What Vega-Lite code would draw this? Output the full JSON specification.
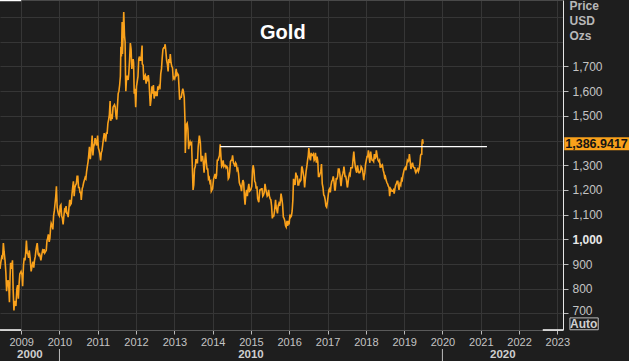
{
"$schema": "https://vega.github.io/schema/vega-lite/v6.json",
"width": 563, "height": 330,
"autosize": {"type": "none"},
"padding": {"left": 0, "top": 0, "right": 66, "bottom": 31},
"background": "#1e1e1e",
"config": {
  "font": "Liberation Sans",
  "view": {"stroke": null},
  "axis": {"gridColor": "#363636", "gridWidth": 1, "labelColor": "#c4c4c4", "labelFontSize": 11, "tickColor": "#bbbbbb"}
},
"resolve": {"axis": {"x": "independent", "y": "independent"}},
"datasets": {
"one": [{}],
"gold": [
{"d":"2008-06-13","p":880},{"d":"2008-06-20","p":905},{"d":"2008-06-30","p":930},{"d":"2008-07-08","p":925},{"d":"2008-07-15","p":985},{"d":"2008-07-22","p":950},{"d":"2008-07-31","p":915},{"d":"2008-08-08","p":865},{"d":"2008-08-15","p":790},{"d":"2008-08-22","p":825},{"d":"2008-08-29","p":835},{"d":"2008-09-05","p":805},{"d":"2008-09-11","p":745},{"d":"2008-09-17","p":850},{"d":"2008-09-22","p":905},{"d":"2008-09-30","p":880},{"d":"2008-10-10","p":915},{"d":"2008-10-16","p":800},{"d":"2008-10-24","p":712},{"d":"2008-10-29","p":750},{"d":"2008-11-05","p":740},{"d":"2008-11-12","p":730},{"d":"2008-11-21","p":800},{"d":"2008-11-28","p":815},{"d":"2008-12-05","p":760},{"d":"2008-12-12","p":820},{"d":"2008-12-19","p":860},{"d":"2008-12-31","p":870},
{"d":"2009-01-09","p":855},{"d":"2009-01-15","p":810},{"d":"2009-01-23","p":895},{"d":"2009-01-30","p":925},{"d":"2009-02-06","p":915},{"d":"2009-02-13","p":945},{"d":"2009-02-20","p":995},{"d":"2009-02-27","p":945},{"d":"2009-03-06","p":940},{"d":"2009-03-13","p":925},{"d":"2009-03-19","p":955},{"d":"2009-03-27","p":925},{"d":"2009-04-06","p":870},{"d":"2009-04-14","p":890},{"d":"2009-04-24","p":910},{"d":"2009-05-01","p":885},{"d":"2009-05-08","p":915},{"d":"2009-05-15","p":930},{"d":"2009-05-22","p":955},{"d":"2009-05-29","p":975},{"d":"2009-06-03","p":985},{"d":"2009-06-12","p":940},{"d":"2009-06-19","p":935},{"d":"2009-06-26","p":940},{"d":"2009-07-08","p":915},{"d":"2009-07-17","p":940},{"d":"2009-07-24","p":955},{"d":"2009-07-31","p":950},{"d":"2009-08-07","p":960},{"d":"2009-08-14","p":945},{"d":"2009-08-21","p":950},{"d":"2009-08-28","p":955},{"d":"2009-09-04","p":995},{"d":"2009-09-11","p":1005},{"d":"2009-09-17","p":1020},{"d":"2009-09-25","p":990},{"d":"2009-10-02","p":1005},{"d":"2009-10-09","p":1050},{"d":"2009-10-14","p":1065},{"d":"2009-10-23","p":1055},{"d":"2009-10-30","p":1040},{"d":"2009-11-06","p":1095},{"d":"2009-11-13","p":1115},{"d":"2009-11-20","p":1145},{"d":"2009-11-27","p":1175},{"d":"2009-12-03","p":1215},{"d":"2009-12-10","p":1130},{"d":"2009-12-18","p":1110},{"d":"2009-12-24","p":1100},{"d":"2009-12-31","p":1095},
{"d":"2010-01-08","p":1135},{"d":"2010-01-15","p":1140},{"d":"2010-01-22","p":1095},{"d":"2010-01-29","p":1085},{"d":"2010-02-05","p":1060},{"d":"2010-02-12","p":1095},{"d":"2010-02-19","p":1120},{"d":"2010-02-26","p":1115},{"d":"2010-03-05","p":1135},{"d":"2010-03-12","p":1105},{"d":"2010-03-19","p":1105},{"d":"2010-03-25","p":1090},{"d":"2010-04-01","p":1125},{"d":"2010-04-09","p":1160},{"d":"2010-04-16","p":1140},{"d":"2010-04-23","p":1145},{"d":"2010-04-30","p":1180},{"d":"2010-05-07","p":1210},{"d":"2010-05-14","p":1235},{"d":"2010-05-21","p":1175},{"d":"2010-05-28","p":1210},{"d":"2010-06-04","p":1220},{"d":"2010-06-11","p":1225},{"d":"2010-06-18","p":1255},{"d":"2010-06-25","p":1255},{"d":"2010-07-02","p":1210},{"d":"2010-07-09","p":1210},{"d":"2010-07-16","p":1190},{"d":"2010-07-23","p":1190},{"d":"2010-07-28","p":1160},{"d":"2010-08-06","p":1205},{"d":"2010-08-13","p":1215},{"d":"2010-08-20","p":1230},{"d":"2010-08-27","p":1240},{"d":"2010-09-03","p":1250},{"d":"2010-09-10","p":1245},{"d":"2010-09-17","p":1275},{"d":"2010-09-24","p":1295},{"d":"2010-10-01","p":1315},{"d":"2010-10-08","p":1345},{"d":"2010-10-14","p":1375},{"d":"2010-10-22","p":1325},{"d":"2010-10-29","p":1355},{"d":"2010-11-05","p":1395},{"d":"2010-11-09","p":1420},{"d":"2010-11-16","p":1340},{"d":"2010-11-23","p":1375},{"d":"2010-11-30","p":1385},{"d":"2010-12-07","p":1410},{"d":"2010-12-14","p":1395},{"d":"2010-12-21","p":1380},{"d":"2010-12-31","p":1420},
{"d":"2011-01-07","p":1370},{"d":"2011-01-14","p":1360},{"d":"2011-01-21","p":1345},{"d":"2011-01-28","p":1320},{"d":"2011-02-04","p":1350},{"d":"2011-02-11","p":1360},{"d":"2011-02-18","p":1385},{"d":"2011-02-25","p":1410},{"d":"2011-03-04","p":1430},{"d":"2011-03-11","p":1420},{"d":"2011-03-17","p":1395},{"d":"2011-03-25","p":1430},{"d":"2011-04-01","p":1430},{"d":"2011-04-08","p":1470},{"d":"2011-04-15","p":1485},{"d":"2011-04-22","p":1505},{"d":"2011-04-29","p":1560},{"d":"2011-05-05","p":1480},{"d":"2011-05-13","p":1500},{"d":"2011-05-20","p":1495},{"d":"2011-05-27","p":1535},{"d":"2011-06-03","p":1540},{"d":"2011-06-10","p":1545},{"d":"2011-06-17","p":1535},{"d":"2011-06-24","p":1500},{"d":"2011-07-01","p":1485},{"d":"2011-07-08","p":1540},{"d":"2011-07-15","p":1590},{"d":"2011-07-22","p":1600},{"d":"2011-07-29","p":1625},{"d":"2011-08-05","p":1660},{"d":"2011-08-10","p":1780},{"d":"2011-08-15","p":1740},{"d":"2011-08-22","p":1880},{"d":"2011-08-25","p":1750},{"d":"2011-08-31","p":1825},{"d":"2011-09-06","p":1920},{"d":"2011-09-13","p":1825},{"d":"2011-09-19","p":1800},{"d":"2011-09-23","p":1660},{"d":"2011-09-26","p":1600},{"d":"2011-10-04","p":1660},{"d":"2011-10-10","p":1660},{"d":"2011-10-18","p":1645},{"d":"2011-10-24","p":1670},{"d":"2011-10-31","p":1720},{"d":"2011-11-08","p":1795},{"d":"2011-11-15","p":1770},{"d":"2011-11-22","p":1690},{"d":"2011-11-28","p":1710},{"d":"2011-12-05","p":1730},{"d":"2011-12-09","p":1715},{"d":"2011-12-15","p":1590},{"d":"2011-12-22","p":1610},{"d":"2011-12-29","p":1535},
{"d":"2012-01-06","p":1620},{"d":"2012-01-13","p":1640},{"d":"2012-01-20","p":1660},{"d":"2012-01-27","p":1730},{"d":"2012-02-03","p":1740},{"d":"2012-02-10","p":1725},{"d":"2012-02-17","p":1725},{"d":"2012-02-28","p":1785},{"d":"2012-03-01","p":1710},{"d":"2012-03-09","p":1705},{"d":"2012-03-15","p":1645},{"d":"2012-03-23","p":1660},{"d":"2012-03-30","p":1665},{"d":"2012-04-06","p":1630},{"d":"2012-04-13","p":1660},{"d":"2012-04-20","p":1640},{"d":"2012-04-27","p":1665},{"d":"2012-05-04","p":1640},{"d":"2012-05-11","p":1580},{"d":"2012-05-16","p":1540},{"d":"2012-05-23","p":1565},{"d":"2012-06-01","p":1620},{"d":"2012-06-08","p":1590},{"d":"2012-06-15","p":1625},{"d":"2012-06-22","p":1570},{"d":"2012-06-29","p":1600},{"d":"2012-07-06","p":1580},{"d":"2012-07-13","p":1590},{"d":"2012-07-20","p":1580},{"d":"2012-07-27","p":1620},{"d":"2012-08-03","p":1605},{"d":"2012-08-10","p":1620},{"d":"2012-08-17","p":1615},{"d":"2012-08-24","p":1670},{"d":"2012-08-31","p":1690},{"d":"2012-09-07","p":1735},{"d":"2012-09-14","p":1770},{"d":"2012-09-21","p":1775},{"d":"2012-09-28","p":1775},{"d":"2012-10-05","p":1790},{"d":"2012-10-12","p":1760},{"d":"2012-10-19","p":1725},{"d":"2012-10-26","p":1710},{"d":"2012-11-02","p":1680},{"d":"2012-11-09","p":1730},{"d":"2012-11-16","p":1715},{"d":"2012-11-23","p":1750},{"d":"2012-11-30","p":1715},{"d":"2012-12-07","p":1700},{"d":"2012-12-14","p":1695},{"d":"2012-12-21","p":1650},{"d":"2012-12-28","p":1655},
{"d":"2013-01-04","p":1650},{"d":"2013-01-11","p":1665},{"d":"2013-01-18","p":1690},{"d":"2013-01-25","p":1665},{"d":"2013-02-01","p":1670},{"d":"2013-02-08","p":1665},{"d":"2013-02-15","p":1610},{"d":"2013-02-20","p":1565},{"d":"2013-03-01","p":1575},{"d":"2013-03-08","p":1575},{"d":"2013-03-15","p":1595},{"d":"2013-03-22","p":1610},{"d":"2013-03-28","p":1600},{"d":"2013-04-05","p":1575},{"d":"2013-04-12","p":1480},{"d":"2013-04-15","p":1350},{"d":"2013-04-19","p":1395},{"d":"2013-04-26","p":1465},{"d":"2013-05-03","p":1470},{"d":"2013-05-10","p":1445},{"d":"2013-05-17","p":1365},{"d":"2013-05-24","p":1385},{"d":"2013-05-31","p":1395},{"d":"2013-06-07","p":1385},{"d":"2013-06-14","p":1390},{"d":"2013-06-21","p":1295},{"d":"2013-06-28","p":1200},{"d":"2013-07-05","p":1220},{"d":"2013-07-12","p":1285},{"d":"2013-07-19","p":1295},{"d":"2013-07-26","p":1325},{"d":"2013-08-02","p":1310},{"d":"2013-08-09","p":1310},{"d":"2013-08-16","p":1375},{"d":"2013-08-27","p":1420},{"d":"2013-09-06","p":1390},{"d":"2013-09-13","p":1315},{"d":"2013-09-20","p":1335},{"d":"2013-09-27","p":1335},{"d":"2013-10-04","p":1310},{"d":"2013-10-11","p":1270},{"d":"2013-10-18","p":1315},{"d":"2013-10-25","p":1350},{"d":"2013-11-01","p":1315},{"d":"2013-11-08","p":1285},{"d":"2013-11-15","p":1285},{"d":"2013-11-22","p":1245},{"d":"2013-11-29","p":1250},{"d":"2013-12-06","p":1230},{"d":"2013-12-13","p":1235},{"d":"2013-12-19","p":1195},{"d":"2013-12-31","p":1205},
{"d":"2014-01-10","p":1245},{"d":"2014-01-17","p":1255},{"d":"2014-01-24","p":1265},{"d":"2014-01-31","p":1245},{"d":"2014-02-07","p":1260},{"d":"2014-02-14","p":1320},{"d":"2014-02-21","p":1320},{"d":"2014-02-28","p":1330},{"d":"2014-03-07","p":1340},{"d":"2014-03-14","p":1385},{"d":"2014-03-21","p":1335},{"d":"2014-03-28","p":1295},{"d":"2014-04-04","p":1300},{"d":"2014-04-11","p":1320},{"d":"2014-04-18","p":1295},{"d":"2014-04-25","p":1300},{"d":"2014-05-02","p":1300},{"d":"2014-05-09","p":1290},{"d":"2014-05-16","p":1295},{"d":"2014-05-23","p":1290},{"d":"2014-05-30","p":1245},{"d":"2014-06-06","p":1250},{"d":"2014-06-13","p":1275},{"d":"2014-06-20","p":1315},{"d":"2014-06-27","p":1320},{"d":"2014-07-03","p":1320},{"d":"2014-07-10","p":1340},{"d":"2014-07-18","p":1310},{"d":"2014-07-25","p":1305},{"d":"2014-08-01","p":1295},{"d":"2014-08-08","p":1310},{"d":"2014-08-15","p":1305},{"d":"2014-08-22","p":1280},{"d":"2014-08-29","p":1285},{"d":"2014-09-05","p":1265},{"d":"2014-09-12","p":1230},{"d":"2014-09-19","p":1220},{"d":"2014-09-26","p":1215},{"d":"2014-10-03","p":1195},{"d":"2014-10-10","p":1225},{"d":"2014-10-17","p":1240},{"d":"2014-10-24","p":1230},{"d":"2014-10-31","p":1170},{"d":"2014-11-06","p":1140},{"d":"2014-11-14","p":1185},{"d":"2014-11-21","p":1200},{"d":"2014-11-28","p":1175},{"d":"2014-12-05","p":1205},{"d":"2014-12-12","p":1225},{"d":"2014-12-19","p":1195},{"d":"2014-12-31","p":1200},
{"d":"2015-01-09","p":1215},{"d":"2015-01-16","p":1275},{"d":"2015-01-22","p":1300},{"d":"2015-01-30","p":1280},{"d":"2015-02-06","p":1235},{"d":"2015-02-13","p":1230},{"d":"2015-02-20","p":1205},{"d":"2015-02-27","p":1215},{"d":"2015-03-06","p":1165},{"d":"2015-03-13","p":1155},{"d":"2015-03-17","p":1150},{"d":"2015-03-27","p":1200},{"d":"2015-04-03","p":1200},{"d":"2015-04-10","p":1205},{"d":"2015-04-17","p":1205},{"d":"2015-04-24","p":1175},{"d":"2015-05-01","p":1180},{"d":"2015-05-08","p":1190},{"d":"2015-05-15","p":1225},{"d":"2015-05-22","p":1205},{"d":"2015-05-29","p":1190},{"d":"2015-06-05","p":1175},{"d":"2015-06-12","p":1180},{"d":"2015-06-19","p":1200},{"d":"2015-06-26","p":1175},{"d":"2015-07-03","p":1165},{"d":"2015-07-10","p":1160},{"d":"2015-07-17","p":1135},{"d":"2015-07-24","p":1085},{"d":"2015-07-31","p":1095},{"d":"2015-08-07","p":1095},{"d":"2015-08-14","p":1115},{"d":"2015-08-24","p":1160},{"d":"2015-08-28","p":1135},{"d":"2015-09-04","p":1120},{"d":"2015-09-11","p":1105},{"d":"2015-09-18","p":1135},{"d":"2015-09-25","p":1145},{"d":"2015-10-02","p":1135},{"d":"2015-10-09","p":1155},{"d":"2015-10-15","p":1185},{"d":"2015-10-23","p":1165},{"d":"2015-10-30","p":1140},{"d":"2015-11-06","p":1090},{"d":"2015-11-13","p":1085},{"d":"2015-11-20","p":1075},{"d":"2015-11-27","p":1055},{"d":"2015-12-03","p":1050},{"d":"2015-12-11","p":1075},{"d":"2015-12-17","p":1055},{"d":"2015-12-24","p":1075},{"d":"2015-12-31","p":1060},
{"d":"2016-01-08","p":1100},{"d":"2016-01-15","p":1090},{"d":"2016-01-22","p":1095},{"d":"2016-01-29","p":1115},{"d":"2016-02-05","p":1160},{"d":"2016-02-11","p":1245},{"d":"2016-02-19","p":1230},{"d":"2016-02-26","p":1220},{"d":"2016-03-04","p":1270},{"d":"2016-03-11","p":1255},{"d":"2016-03-18","p":1255},{"d":"2016-03-24","p":1220},{"d":"2016-04-01","p":1220},{"d":"2016-04-08","p":1240},{"d":"2016-04-15","p":1235},{"d":"2016-04-22","p":1240},{"d":"2016-04-29","p":1290},{"d":"2016-05-02","p":1295},{"d":"2016-05-13","p":1270},{"d":"2016-05-20","p":1250},{"d":"2016-05-27","p":1210},{"d":"2016-06-03","p":1245},{"d":"2016-06-10","p":1275},{"d":"2016-06-17","p":1295},{"d":"2016-06-24","p":1320},{"d":"2016-07-01","p":1340},{"d":"2016-07-06","p":1370},{"d":"2016-07-15","p":1330},{"d":"2016-07-22","p":1320},{"d":"2016-07-29","p":1350},{"d":"2016-08-05","p":1340},{"d":"2016-08-12","p":1340},{"d":"2016-08-19","p":1345},{"d":"2016-08-26","p":1320},{"d":"2016-09-02","p":1325},{"d":"2016-09-07","p":1350},{"d":"2016-09-16","p":1310},{"d":"2016-09-23","p":1335},{"d":"2016-09-30","p":1315},{"d":"2016-10-06","p":1255},{"d":"2016-10-14","p":1255},{"d":"2016-10-21","p":1265},{"d":"2016-10-28","p":1275},{"d":"2016-11-04","p":1305},{"d":"2016-11-11","p":1225},{"d":"2016-11-18","p":1210},{"d":"2016-11-25","p":1180},{"d":"2016-12-02","p":1175},{"d":"2016-12-09","p":1160},{"d":"2016-12-16","p":1135},{"d":"2016-12-23","p":1130},{"d":"2016-12-30","p":1150},
{"d":"2017-01-06","p":1175},{"d":"2017-01-13","p":1200},{"d":"2017-01-20","p":1205},{"d":"2017-01-27","p":1190},{"d":"2017-02-03","p":1220},{"d":"2017-02-10","p":1235},{"d":"2017-02-17","p":1240},{"d":"2017-02-24","p":1255},{"d":"2017-03-03","p":1235},{"d":"2017-03-10","p":1200},{"d":"2017-03-15","p":1200},{"d":"2017-03-24","p":1245},{"d":"2017-03-31","p":1245},{"d":"2017-04-07","p":1255},{"d":"2017-04-13","p":1285},{"d":"2017-04-21","p":1285},{"d":"2017-04-28","p":1265},{"d":"2017-05-05","p":1230},{"d":"2017-05-09","p":1215},{"d":"2017-05-19","p":1255},{"d":"2017-05-26","p":1265},{"d":"2017-06-02","p":1280},{"d":"2017-06-06","p":1295},{"d":"2017-06-16","p":1255},{"d":"2017-06-23","p":1255},{"d":"2017-06-30","p":1240},{"d":"2017-07-07","p":1215},{"d":"2017-07-10","p":1210},{"d":"2017-07-21","p":1250},{"d":"2017-07-28","p":1265},{"d":"2017-08-04","p":1260},{"d":"2017-08-11","p":1290},{"d":"2017-08-18","p":1290},{"d":"2017-08-25","p":1290},{"d":"2017-09-01","p":1325},{"d":"2017-09-08","p":1355},{"d":"2017-09-15","p":1320},{"d":"2017-09-22","p":1295},{"d":"2017-09-29","p":1280},{"d":"2017-10-06","p":1270},{"d":"2017-10-13","p":1300},{"d":"2017-10-20","p":1280},{"d":"2017-10-27","p":1270},{"d":"2017-11-03","p":1270},{"d":"2017-11-10","p":1275},{"d":"2017-11-17","p":1295},{"d":"2017-11-24","p":1290},{"d":"2017-12-01","p":1280},{"d":"2017-12-12","p":1240},{"d":"2017-12-15","p":1255},{"d":"2017-12-22","p":1270},{"d":"2017-12-29","p":1305},
{"d":"2018-01-05","p":1320},{"d":"2018-01-12","p":1335},{"d":"2018-01-19","p":1335},{"d":"2018-01-25","p":1360},{"d":"2018-02-02","p":1330},{"d":"2018-02-08","p":1310},{"d":"2018-02-16","p":1355},{"d":"2018-02-23","p":1330},{"d":"2018-03-02","p":1320},{"d":"2018-03-09","p":1320},{"d":"2018-03-16","p":1315},{"d":"2018-03-23","p":1345},{"d":"2018-03-29","p":1325},{"d":"2018-04-06","p":1335},{"d":"2018-04-11","p":1360},{"d":"2018-04-20","p":1335},{"d":"2018-04-27","p":1320},{"d":"2018-05-04","p":1315},{"d":"2018-05-11","p":1320},{"d":"2018-05-18","p":1290},{"d":"2018-05-25","p":1300},{"d":"2018-06-01","p":1295},{"d":"2018-06-08","p":1300},{"d":"2018-06-15","p":1280},{"d":"2018-06-22","p":1270},{"d":"2018-06-29","p":1250},{"d":"2018-07-06","p":1255},{"d":"2018-07-13","p":1240},{"d":"2018-07-20","p":1230},{"d":"2018-07-27","p":1225},{"d":"2018-08-03","p":1215},{"d":"2018-08-10","p":1210},{"d":"2018-08-16","p":1175},{"d":"2018-08-24","p":1205},{"d":"2018-08-31","p":1200},{"d":"2018-09-07","p":1195},{"d":"2018-09-14","p":1195},{"d":"2018-09-21","p":1200},{"d":"2018-09-28","p":1185},{"d":"2018-10-05","p":1205},{"d":"2018-10-12","p":1220},{"d":"2018-10-19","p":1225},{"d":"2018-10-26","p":1235},{"d":"2018-11-02","p":1235},{"d":"2018-11-09","p":1210},{"d":"2018-11-13","p":1200},{"d":"2018-11-23","p":1225},{"d":"2018-11-30","p":1220},{"d":"2018-12-07","p":1245},{"d":"2018-12-14","p":1240},{"d":"2018-12-21","p":1260},{"d":"2018-12-31","p":1280},
{"d":"2019-01-04","p":1285},{"d":"2019-01-11","p":1290},{"d":"2019-01-18","p":1280},{"d":"2019-01-25","p":1300},{"d":"2019-02-01","p":1320},{"d":"2019-02-08","p":1315},{"d":"2019-02-15","p":1320},{"d":"2019-02-20","p":1345},{"d":"2019-02-28","p":1315},{"d":"2019-03-07","p":1285},{"d":"2019-03-15","p":1300},{"d":"2019-03-22","p":1310},{"d":"2019-03-29","p":1295},{"d":"2019-04-05","p":1290},{"d":"2019-04-12","p":1290},{"d":"2019-04-18","p":1275},{"d":"2019-04-23","p":1270},{"d":"2019-05-03","p":1280},{"d":"2019-05-10","p":1285},{"d":"2019-05-17","p":1275},{"d":"2019-05-24","p":1285},{"d":"2019-05-31","p":1305},{"d":"2019-06-07","p":1340},{"d":"2019-06-14","p":1345},{"d":"2019-06-18","p":1345},{"d":"2019-06-20","p":1390},{"d":"2019-06-25","p":1405},{"d":"2019-06-28","p":1400},{"d":"2019-07-01","p":1386.9417}
]
},
"layer": [
{
  "data": {"name": "gold"},
  "mark": {"type": "line", "color": "#f9a11b", "strokeWidth": 1.6},
  "encoding": {
    "x": {"field": "d", "type": "temporal",
      "scale": {"domain": [{"year": 2008, "month": 6, "date": 13}, {"year": 2023, "month": 2, "date": 24}], "nice": false},
      "axis": {"values": [{"year":2009},{"year":2010},{"year":2011},{"year":2012},{"year":2013},{"year":2014},{"year":2015},{"year":2016},{"year":2017},{"year":2018},{"year":2019},{"year":2020},{"year":2021},{"year":2022},{"year":2023}],
        "format": "%Y", "tickSize": 4, "labelPadding": 2, "domainColor": "#5a5a5a", "title": null, "labelFlush": false, "labelOverlap": false, "grid": true}},
    "y": {"field": "p", "type": "quantitative",
      "scale": {"domain": [633, 1969], "nice": false, "zero": false},
      "axis": {"orient": "right", "values": [700,800,900,1000,1100,1200,1300,1400,1500,1600,1700,1800,1900],
        "labelExpr": "(datum.value > 1700 || datum.value == 1400) ? '' : format(datum.value, ',')",
        "labelFontSize": 12,
        "labelFontWeight": {"condition": {"test": "datum.value == 1000", "value": "bold"}, "value": "normal"},
        "labelColor": {"condition": {"test": "datum.value == 1000", "value": "#e8e8e8"}, "value": "#c4c4c4"},
        "labelOffset": {"condition": {"test": "datum.value == 700", "value": -3}, "value": 0},
        "tickOpacity": {"condition": {"test": "datum.value > 1700 || datum.value == 1400", "value": 0}, "value": 1},
        "tickSize": 5, "labelPadding": 4, "domainColor": "#e6e6e6", "labelFlush": false, "labelOverlap": false, "grid": true,
        "title": ["Price", "USD", "Ozs"], "titleAngle": 0, "titleAlign": "left", "titleBaseline": "top", "titleX": 6, "titleY": 0,
        "titleFontSize": 12, "titleFontWeight": "bold", "titleColor": "#b8b8b8", "titleLineHeight": 15}}
  }
},
{
  "data": {"name": "one"},
  "mark": {"type": "rule", "color": "#ffffff", "strokeWidth": 1.2},
  "encoding": {
    "x": {"datum": {"year": 2014, "month": 3, "date": 14}, "type": "temporal", "axis": null},
    "x2": {"datum": {"year": 2021, "month": 3, "date": 1}},
    "y": {"datum": 1375, "type": "quantitative", "axis": null}
  }
},
{
  "data": {"name": "one"},
  "mark": {"type": "rule", "color": "#4a4a4a", "strokeWidth": 1},
  "encoding": {
    "x": {"datum": {"year": 2008, "month": 6, "date": 13}, "type": "temporal", "axis": null},
    "x2": {"datum": {"year": 2023, "month": 2, "date": 24}},
    "y": {"datum": 1967, "type": "quantitative", "axis": null}
  }
},
{
  "data": {"name": "one"},
  "mark": {"type": "rule", "color": "#ffffff", "strokeWidth": 1.5},
  "encoding": {
    "x": {"datum": {"year": 2008, "month": 6, "date": 13}, "type": "temporal", "axis": null},
    "x2": {"datum": {"year": 2009, "month": 1, "date": 1}},
    "y": {"datum": 1967, "type": "quantitative", "axis": null}
  }
},
{
  "data": {"name": "one"},
  "mark": {"type": "rule", "color": "#ffffff", "strokeWidth": 1.5},
  "encoding": {
    "x": {"datum": {"year": 2008, "month": 6, "date": 13}, "type": "temporal", "axis": null},
    "x2": {"datum": {"year": 2009, "month": 1, "date": 1}},
    "y": {"datum": 633, "type": "quantitative", "axis": null}
  }
},
{
  "data": {"name": "one"},
  "mark": {"type": "rule", "color": "#ffffff", "strokeWidth": 1.5},
  "encoding": {
    "x": {"datum": {"year": 2022, "month": 8, "date": 15}, "type": "temporal", "axis": null},
    "x2": {"datum": {"year": 2023, "month": 2, "date": 24}},
    "y": {"datum": 633, "type": "quantitative", "axis": null}
  }
},
{
  "data": {"name": "one"},
  "mark": {"type": "rule", "color": "#f9a11b", "strokeWidth": 13, "strokeCap": "butt"},
  "encoding": {
    "x": {"datum": {"year": 2023, "month": 3, "date": 8}, "type": "temporal", "axis": null},
    "x2": {"datum": {"year": 2025, "month": 1, "date": 1}},
    "y": {"datum": 1386.9417, "type": "quantitative", "axis": null}
  }
},
{
  "data": {"name": "one"},
  "mark": {"type": "text", "text": "1,386.9417", "align": "left", "baseline": "middle", "dx": 1, "fontSize": 12.5, "fontWeight": "bold", "color": "#141414"},
  "encoding": {
    "x": {"datum": {"year": 2023, "month": 3, "date": 8}, "type": "temporal", "axis": null},
    "y": {"datum": 1386.9417, "type": "quantitative", "axis": null}
  }
},
{
  "data": {"name": "one"},
  "mark": {"type": "text", "text": "Gold", "align": "center", "baseline": "middle", "fontSize": 20, "fontWeight": "bold", "color": "#ffffff"},
  "encoding": {
    "x": {"datum": {"year": 2015, "month": 11, "date": 1}, "type": "temporal", "axis": null},
    "y": {"datum": 1835, "type": "quantitative", "axis": null}
  }
},
{
  "data": {"name": "one"},
  "mark": {"type": "rect", "fill": "transparent", "stroke": "#bdbdbd", "strokeWidth": 1},
  "encoding": {
    "x": {"datum": {"year": 2023, "month": 5, "date": 1}, "type": "temporal", "axis": null},
    "x2": {"datum": {"year": 2024, "month": 1, "date": 26}},
    "y": {"datum": 682, "type": "quantitative", "axis": null},
    "y2": {"datum": 634}
  }
},
{
  "data": {"name": "one"},
  "mark": {"type": "text", "text": "Auto", "align": "center", "baseline": "middle", "fontSize": 12, "fontWeight": "bold", "color": "#d0d0d0"},
  "encoding": {
    "x": {"datum": {"year": 2023, "month": 9, "date": 10}, "type": "temporal", "axis": null},
    "y": {"datum": 657, "type": "quantitative", "axis": null}
  }
},
{
  "data": {"name": "one"},
  "mark": {"type": "text", "text": "2000", "align": "center", "baseline": "middle", "fontSize": 11.5, "fontWeight": "bold", "color": "#cfcfcf"},
  "encoding": {
    "x": {"datum": {"year": 2009, "month": 3, "date": 25}, "type": "temporal", "axis": null},
    "y": {"datum": 532, "type": "quantitative", "axis": null}
  }
},
{
  "data": {"name": "one"},
  "mark": {"type": "text", "text": "2010", "align": "center", "baseline": "middle", "fontSize": 11.5, "fontWeight": "bold", "color": "#cfcfcf"},
  "encoding": {
    "x": {"datum": {"year": 2015, "month": 1, "date": 1}, "type": "temporal", "axis": null},
    "y": {"datum": 532, "type": "quantitative", "axis": null}
  }
},
{
  "data": {"name": "one"},
  "mark": {"type": "text", "text": "2020", "align": "center", "baseline": "middle", "fontSize": 11.5, "fontWeight": "bold", "color": "#cfcfcf"},
  "encoding": {
    "x": {"datum": {"year": 2021, "month": 7, "date": 30}, "type": "temporal", "axis": null},
    "y": {"datum": 532, "type": "quantitative", "axis": null}
  }
},
{
  "data": {"name": "one"},
  "mark": {"type": "rule", "color": "#bdbdbd", "strokeWidth": 1},
  "encoding": {
    "x": {"datum": {"year": 2010}, "type": "temporal", "axis": null},
    "y": {"datum": 556, "type": "quantitative", "axis": null},
    "y2": {"datum": 480}
  }
},
{
  "data": {"name": "one"},
  "mark": {"type": "rule", "color": "#bdbdbd", "strokeWidth": 1},
  "encoding": {
    "x": {"datum": {"year": 2020}, "type": "temporal", "axis": null},
    "y": {"datum": 556, "type": "quantitative", "axis": null},
    "y2": {"datum": 480}
  }
}
]
}
